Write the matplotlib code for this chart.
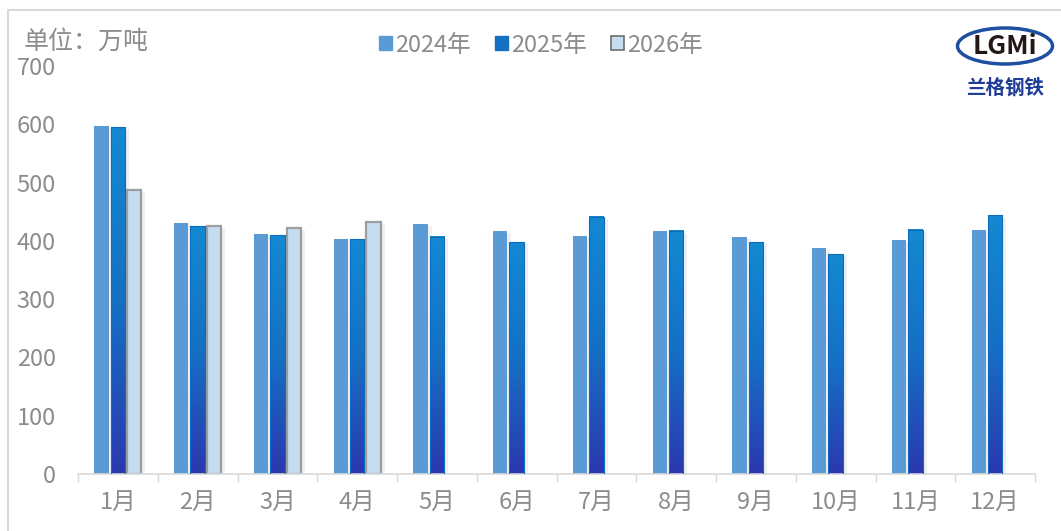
import numpy as np
import matplotlib
matplotlib.use("Agg")
import matplotlib.pyplot as plt
from matplotlib.patches import Patch, Rectangle, Ellipse
from matplotlib.colors import LinearSegmentedColormap

plt.rcParams['font.family'] = ['Noto Sans CJK SC', 'DejaVu Sans']

# data (万吨)
months = ["1月", "2月", "3月", "4月", "5月", "6月", "7月", "8月", "9月", "10月", "11月", "12月"]
y2024 = [597, 430, 412, 403, 429, 417, 408, 417, 407, 388, 401, 419]
y2025 = [595, 425, 410, 403, 407, 398, 441, 417, 398, 377, 419, 444]
y2026 = [487, 425, 422, 432]
series_names = ["2024年", "2025年", "2026年"]

c2024 = "#5B9BD5"
c2026 = "#C6DCF0"
grad = LinearSegmentedColormap.from_list("g25", ["#2B38B0", "#1570C4", "#1389D2"])
txt = "#8C8C8C"

fig = plt.figure(figsize=(10.61, 5.31), dpi=100)
ax = fig.add_axes([78 / 1061, 57 / 531, 957 / 1061, 408 / 531])

x = np.arange(len(months))
w = 0.18
off = 0.206

# light shadows to the right of each bar
def shadow(xs, hs):
    for xi, h in zip(xs, hs):
        ax.add_patch(Rectangle((xi - w / 2 + 0.03, 0), w + 0.02, h - 3,
                               color="#000000", alpha=0.06, lw=0, zorder=1))

shadow(x - off, y2024)
shadow(x, y2025)
shadow(x[:len(y2026)] + off, y2026)

ax.bar(x - off, y2024, w, color=c2024, zorder=2)

# 2025 with vertical gradient
g = np.linspace(0, 1, 256).reshape(-1, 1)
for xi, h in zip(x, y2025):
    ax.imshow(g, cmap=grad, origin="lower", aspect="auto",
              extent=(xi - w / 2, xi + w / 2, 0, h), zorder=2)
    ax.add_patch(Rectangle((xi - w / 2, 0), w, h, fill=False,
                           ec="#0F6CBC", lw=0.8, zorder=3))

ax.bar(x[:len(y2026)] + off, y2026, w, color=c2026, edgecolor="#9E9E9E",
       linewidth=1.6, zorder=2)

ax.set_xlim(-0.5, len(months) - 0.5)
ax.set_ylim(0, 700)
ax.set_yticks(range(0, 701, 100))
ax.set_xticks(x)
ax.set_xticklabels(months)
ax.set_xticks(np.arange(-0.5, len(months), 1), minor=True)
ax.tick_params(axis="x", which="major", length=0, pad=12, labelsize=17, labelcolor=txt)
ax.tick_params(axis="x", which="minor", length=6, color="#D9D9D9", width=1)
ax.tick_params(axis="y", length=0, pad=16, labelsize=17, labelcolor=txt)
for s in ["top", "right", "left"]:
    ax.spines[s].set_visible(False)
ax.spines["bottom"].set_color("#D9D9D9")
ax.spines["bottom"].set_linewidth(1.2)

# outer frame
fig.patches.append(Rectangle((8 / 1061, -0.01), 1.02, 1 - 10 / 531 + 0.01,
                             transform=fig.transFigure, fill=False,
                             ec="#D9D9D9", lw=1.5))

fig.text(24 / 1061, 1 - 42 / 531, "单位：万吨", fontsize=18, color=txt, va="center")

handles = [Patch(color=c2024), Patch(color="#1570C4"),
           Patch(facecolor=c2026, edgecolor="#6E6E6E", lw=1.2)]
fig.legend(handles, series_names, loc="center", bbox_to_anchor=(541 / 1061, 1 - 45 / 531),
           ncol=3, frameon=False, fontsize=17, labelcolor=txt,
           handlelength=0.55, handleheight=0.55, handletextpad=0.15, columnspacing=1.0)

# logo approximation
fig.patches.append(Ellipse((1005 / 1061, 1 - 46 / 531), 95 / 1061, 36 / 531,
                           transform=fig.transFigure, fill=False, ec="#1F4FA0", lw=2.5))
fig.text(1005 / 1061, 1 - 46 / 531, "LGMi", fontsize=19, fontweight="bold",
         color="#231815", ha="center", va="center")
fig.text(1005 / 1061, 1 - 88 / 531, "兰格钢铁", fontsize=14, fontweight="bold",
         color="#1F3C96", ha="center", va="center")

fig.savefig("out.png", dpi=100)
